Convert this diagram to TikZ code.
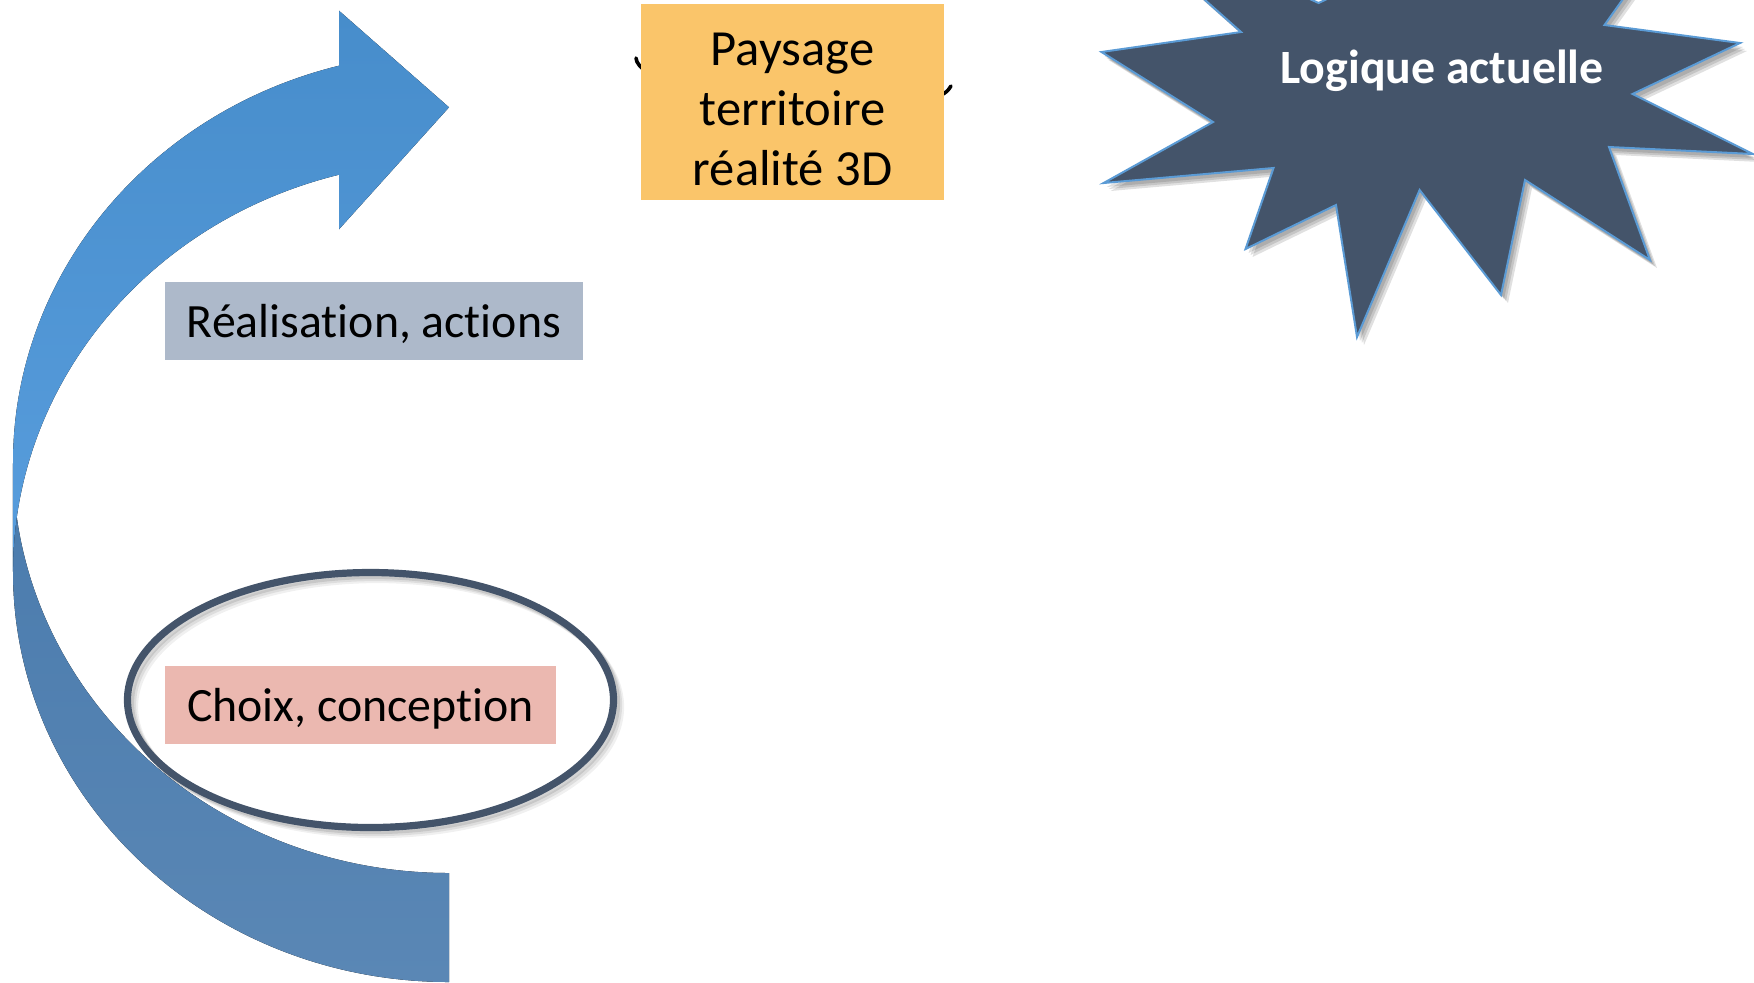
\documentclass[tikz,border=0pt]{standalone}
\usepackage{fontspec}
\setmainfont[Ligatures=NoCommon]{Carlito}
\usetikzlibrary{shapes.geometric}
\definecolor{paysagefill}{HTML}{FAC56A}
\definecolor{realfill}{HTML}{ADB9CA}
\definecolor{choixfill}{HTML}{EBB8B0}
\definecolor{slate}{HTML}{44546A}
\definecolor{starline}{HTML}{5B9BD5}
\definecolor{fronttop}{HTML}{478DCB}
\definecolor{frontbot}{HTML}{589DDD}
\definecolor{backtop}{HTML}{4A7BAD}
\definecolor{backbot}{HTML}{5A87B5}
\begin{document}
\begin{tikzpicture}[x=0.5pt,y=-0.5pt,
  labelbox/.style={inner sep=0pt, font=\fontsize{23.9}{30}\selectfont, text height=16.2pt, text depth=0pt},
  starshadow/.style={fill=black, opacity=0.12},
  starbody/.style={fill=slate, draw=starline, line width=1pt, line join=miter},
  ringline/.style={draw=slate, line width=3.6pt},
]
\useasboundingbox (0,0) rectangle (1754,982);
\clip (0,0) rectangle (1754,982);

% curved arrow: back (darker) band
\fill[top color=backtop, bottom color=backbot]
  (449,982) arc[start angle=90, end angle=180, x radius=436, y radius=410.3]
  -- (13,462.7) arc[start angle=180, end angle=90, x radius=436, y radius=410.3]
  -- cycle;
% curved arrow: front (lighter) band with head
\fill[top color=fronttop, bottom color=frontbot]
  (13,462.7) arc[start angle=180, end angle=255.39, x radius=436, y radius=410.3]
  -- (339,10.7) -- (449,107.3) -- (339,229.3) -- (339,174.7)
  arc[start angle=255.39, end angle=180, x radius=436, y radius=410.3]
  -- cycle;

% ellipse around "Choix, conception"
\foreach \d/\o in {3/0.10,5/0.08,7/0.06}{
  \draw[black, opacity=\o, line width=3.6pt] (370.5+\d,700+\d) ellipse [x radius=243, y radius=127.5];
}
\node[ringline, ellipse, minimum width=243pt, minimum height=127.5pt, inner sep=0pt] (ring) at (370.5,700) {};

% hidden black arc behind the landscape box
\coordinate (arcL) at (636,58);
\coordinate (arcR) at (951,86);
\draw[line width=1.8pt, line cap=round] (arcL) .. controls (638,100) and (930,130) .. (arcR);

% boxes
\node[inner sep=0pt, fill=paysagefill, minimum width=151.5pt, minimum height=98pt,
      font=\fontsize{25.3}{30}\selectfont, text height=0pt, text depth=37pt] (paysage) at (792.5,102)
  {\begin{tabular}[t]{@{}c@{}}Paysage\\territoire\\réalité 3D\end{tabular}};
\node[labelbox, fill=realfill, minimum width=209pt, minimum height=39pt] (realisation) at (374,321) {Réalisation, actions};
\node[labelbox, fill=choixfill, minimum width=195.5pt, minimum height=39pt] (choix) at (360.5,705) {Choix, conception};

% star shadow
\foreach \d in {3,5,7}{
\fill[starshadow, shift={(\d,\d+1)}]
  (1101.5,52) -- (1213,122) -- (1103.6,183) -- (1273.5,168) -- (1245.5,249) -- (1336,205)
  -- (1357,337) -- (1419.6,190) -- (1501,295) -- (1525,180) -- (1650,260) -- (1609,147)
  -- (1753,154) -- (1632.5,94) -- (1740,43) -- (1604.5,25) -- (1665,-60) -- (1450,-60)
  -- (1318.6,3) -- (1093,-99.5) -- (1241,32) -- cycle;
}
% star
\draw[starbody]
  (1101.5,52) -- (1213,122) -- (1103.6,183) -- (1273.5,168) -- (1245.5,249) -- (1336,205)
  -- (1357,337) -- (1419.6,190) -- (1501,295) -- (1525,180) -- (1650,260) -- (1609,147)
  -- (1753,154) -- (1632.5,94) -- (1740,43) -- (1604.5,25) -- (1665,-60) -- (1450,-60)
  -- (1318.6,3) -- (1093,-99.5) -- (1241,32) -- cycle;
\node[anchor=base, text=white, font=\fontsize{23.9}{28}\selectfont\bfseries] (logique) at (1442,83.3) {Logique actuelle};
\end{tikzpicture}
\end{document}
